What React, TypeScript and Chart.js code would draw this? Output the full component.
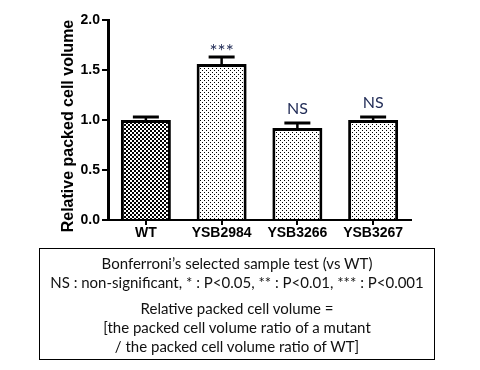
import React, { useEffect, useRef } from "react";
import { Chart, registerables } from "chart.js";

Chart.register(...registerables);

const categories = ["WT", "YSB2984", "YSB3266", "YSB3267"];
const meanValues = [1.0, 1.56, 0.92, 1.0];
const errorValues = [0.03, 0.07, 0.05, 0.03];
const significance = ["", "***", "NS", "NS"];
const yTicks = [0, 0.5, 1.0, 1.5, 2.0];
const yTitle = "Relative packed cell volume";
const noteLines1 = [
  "Bonferroni\u2019s selected sample test (vs WT)",
  "NS : non-significant, * : P<0.05, ** : P<0.01, *** : P<0.001",
];
const noteLines2 = [
  "Relative packed cell volume =",
  "[the packed cell volume ratio of a mutant",
  "/ the packed cell volume ratio of WT]",
];

function makePattern(kind: "check" | "dots"): CanvasPattern | string {
  const c = document.createElement("canvas");
  c.width = 4;
  c.height = 4;
  const ctx = c.getContext("2d");
  if (!ctx) return "#888";
  ctx.fillStyle = "#fff";
  ctx.fillRect(0, 0, 4, 4);
  ctx.fillStyle = "#000";
  if (kind === "check") {
    ctx.fillRect(0, 0, 2, 2);
    ctx.fillRect(2, 2, 2, 2);
  } else {
    ctx.fillRect(0, 0, 1, 1);
    ctx.fillRect(2, 2, 1, 1);
  }
  const p = ctx.createPattern(c, "repeat");
  return p || "#888";
}

const errorBarPlugin = {
  id: "errorBars",
  afterDatasetsDraw(chart: any) {
    const ctx = chart.ctx;
    const meta = chart.getDatasetMeta(0);
    const y = chart.scales.y;
    ctx.save();
    meta.data.forEach((bar: any, i: number) => {
      const top = y.getPixelForValue(meanValues[i] + errorValues[i]);
      const x = bar.x;
      ctx.strokeStyle = "#000";
      ctx.lineWidth = 2.5;
      ctx.beginPath();
      ctx.moveTo(x, bar.y);
      ctx.lineTo(x, top);
      ctx.stroke();
      ctx.lineWidth = 3;
      ctx.beginPath();
      ctx.moveTo(x - 13, top);
      ctx.lineTo(x + 13, top);
      ctx.stroke();
      const label = significance[i];
      if (label) {
        ctx.fillStyle = "#1f2a55";
        ctx.textAlign = "center";
        ctx.textBaseline = "bottom";
        ctx.font = label === "NS" ? "16px Lato, 'Open Sans', sans-serif" : "19px Lato, sans-serif";
        ctx.fillText(label, x, top - (label === "NS" ? 6 : -4));
      }
    });
    // y-axis title
    const area = chart.chartArea;
    ctx.save();
    ctx.translate(69, (area.top + area.bottom) / 2 + 6);
    ctx.rotate(-Math.PI / 2);
    ctx.fillStyle = "#000";
    ctx.textAlign = "center";
    ctx.textBaseline = "middle";
    ctx.font = "bold 16px Arial, 'Liberation Sans', sans-serif";
    ctx.fillText(yTitle, 0, 0);
    ctx.restore();
    ctx.restore();
  },
};

export default function App() {
  const ref = useRef<HTMLCanvasElement>(null);
  useEffect(() => {
    if (!ref.current) return;
    const check = makePattern("check");
    const dots = makePattern("dots");
    const chart = new Chart(ref.current, {
      type: "bar",
      data: {
        labels: categories,
        datasets: [
          {
            data: meanValues,
            backgroundColor: categories.map((_, i) => (i === 0 ? check : dots)) as any,
            borderColor: "#000",
            borderWidth: 3,
            barPercentage: 0.66,
            categoryPercentage: 1,
          },
        ],
      },
      options: {
        animation: false,
        responsive: false,
        maintainAspectRatio: false,
        layout: { padding: { left: 60, top: 20, right: 69, bottom: 0 } },
        plugins: { legend: { display: false }, tooltip: { enabled: false } },
        scales: {
          x: {
            grid: {
              display: true,
              drawOnChartArea: false,
              drawTicks: true,
              tickLength: 5,
              color: "#000",
              lineWidth: 2,
              offset: false,
            },
            border: { color: "#000", width: 2 },
            ticks: {
              color: "#000",
              font: { family: "Arial, 'Liberation Sans', sans-serif", size: 14, weight: "bold" },
              padding: 0,
            },
            afterFit(s: any) {
              s.height = 150;
            },
          },
          y: {
            min: 0,
            max: 2,
            afterBuildTicks(s: any) {
              s.ticks = yTicks.map((v) => ({ value: v }));
            },
            grid: {
              display: true,
              drawOnChartArea: false,
              drawTicks: true,
              tickLength: 6,
              color: "#000",
              lineWidth: 2,
            },
            border: { color: "#000", width: 3 },
            ticks: {
              color: "#000",
              padding: 2,
              font: { family: "Arial, 'Liberation Sans', sans-serif", size: 14, weight: "bold" },
              callback: (v: any) => Number(v).toFixed(1),
            },
            title: { display: false },
            afterFit(s: any) {
              s.width = 48;
            },
          },
        },
      },
      plugins: [errorBarPlugin],
    });
    return () => chart.destroy();
  }, []);

  const lineStyle = (top: number): React.CSSProperties => ({
    position: "absolute",
    left: 0,
    width: "100%",
    top,
    textAlign: "center",
    lineHeight: "18px",
    whiteSpace: "nowrap",
  });

  return (
    <div style={{ position: "absolute", left: 0, top: 0, width: 480, height: 370, background: "#fff" }}>
      <canvas ref={ref} width={480} height={370} style={{ position: "absolute", left: 0, top: 0 }} />
      <div
        style={{
          position: "absolute",
          left: 39,
          top: 248,
          width: 396,
          height: 112,
          border: "1px solid #000",
          boxSizing: "border-box",
          fontFamily: "Lato, 'Open Sans', sans-serif",
          fontSize: 15,
          color: "#111",
        }}
      >
        <div style={lineStyle(5)}>{noteLines1[0]}</div>
        <div style={lineStyle(24)}>{noteLines1[1]}</div>
        <div style={lineStyle(50)}>{noteLines2[0]}</div>
        <div style={lineStyle(69)}>{noteLines2[1]}</div>
        <div style={lineStyle(88)}>{noteLines2[2]}</div>
      </div>
    </div>
  );
}
